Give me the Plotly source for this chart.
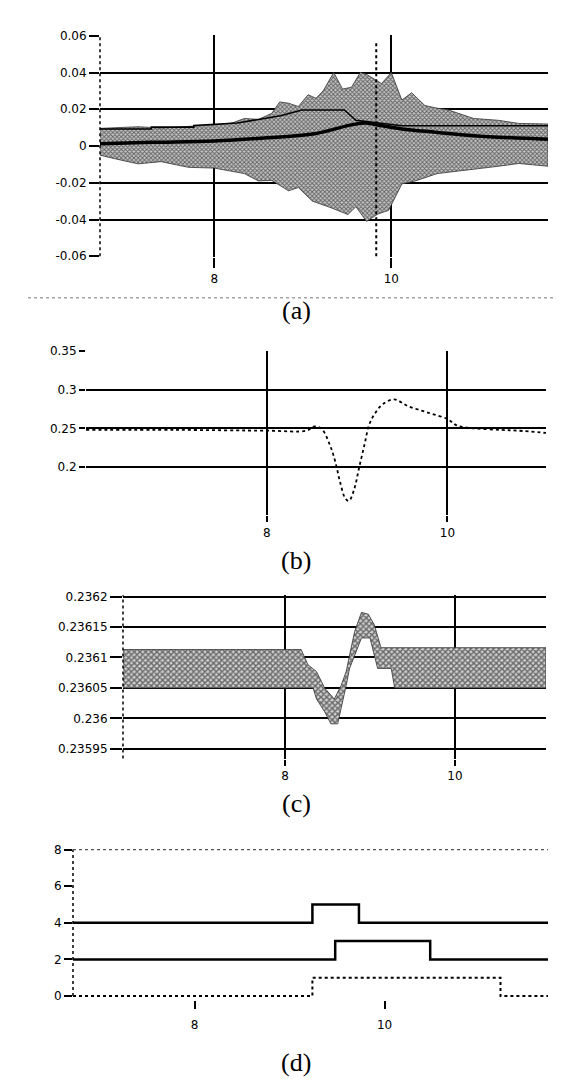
import plotly.graph_objects as go

W, H = 561, 1086

# ---------------- data ----------------
# (a) noisy signal: envelope of the noise band, running mean, upper threshold line, spike
a_up_x = [6.71, 6.9, 7.14, 7.4, 7.71, 8.0, 8.2, 8.34, 8.5, 8.65, 8.74, 8.84, 8.95, 9.06, 9.15, 9.23, 9.35,
          9.45, 9.55, 9.65, 9.72, 9.89, 10.0, 10.12, 10.23, 10.38, 10.52, 10.64, 10.93, 11.21, 11.44, 11.77]
a_up_y = [0.0096, 0.0100, 0.0105, 0.0098, 0.0105, 0.0115, 0.0125, 0.015, 0.0145, 0.0178, 0.024, 0.0233,
          0.0215, 0.0279, 0.026, 0.030, 0.040, 0.031, 0.032, 0.040, 0.039, 0.034, 0.040, 0.025, 0.029,
          0.022, 0.0206, 0.0197, 0.015, 0.014, 0.0123, 0.012]
a_lo_x = [6.71, 6.95, 7.14, 7.4, 7.71, 8.0, 8.34, 8.5, 8.65, 8.84, 8.95, 9.11, 9.32, 9.51, 9.6, 9.72,
          9.85, 9.97, 10.12, 10.27, 10.52, 10.83, 11.21, 11.44, 11.77]
a_lo_y = [-0.005, -0.0077, -0.0097, -0.0085, -0.0116, -0.012, -0.015, -0.019, -0.0187, -0.0244, -0.0226,
          -0.030, -0.0336, -0.0373, -0.033, -0.041, -0.037, -0.035, -0.0206, -0.0190, -0.015, -0.0134,
          -0.0110, -0.0095, -0.011]
a_mean_x = [6.71, 7.3, 8.0, 8.6, 9.11, 9.55, 9.71, 9.9, 10.12, 10.5, 10.93, 11.77]
a_mean_y = [0.0012, 0.002, 0.0028, 0.0045, 0.0065, 0.0115, 0.0125, 0.011, 0.0093, 0.0075, 0.0056, 0.0037]
a_thr_x = [6.71, 7.29, 7.29, 7.77, 7.77, 8.26, 8.75, 8.99, 9.47, 9.6, 10.12, 11.77]
a_thr_y = [0.0093, 0.0093, 0.0103, 0.0103, 0.0112, 0.0125, 0.0165, 0.0196, 0.0196, 0.014, 0.011, 0.011]
a_spike_x = [9.83, 9.83]
a_spike_y = [-0.06, 0.057]
a_xticks = [8, 10]
a_yticks = [-0.06, -0.04, -0.02, 0, 0.02, 0.04, 0.06]
a_ylabels = ["-0.06", "-0.04", "-0.02", "0", "0.02", "0.04", "0.06"]

# (b) smooth signal
b_x = [6.0, 7.0, 8.0, 8.44, 8.53, 8.61, 8.70, 8.76, 8.81, 8.87, 8.91, 8.97, 9.02, 9.08, 9.13,
       9.19, 9.28, 9.41, 9.56, 9.78, 10.0, 10.11, 10.30, 10.59, 10.78, 11.09]
b_y = [0.248, 0.248, 0.247, 0.247, 0.2526, 0.249, 0.228, 0.206, 0.181, 0.159, 0.156, 0.172, 0.198,
       0.228, 0.2534, 0.268, 0.281, 0.2876, 0.279, 0.2705, 0.262, 0.2534, 0.250, 0.248, 0.247, 0.244]
b_xticks = [8, 10]
b_yticks = [0.2, 0.25, 0.3, 0.35]
b_ylabels = ["0.2", "0.25", "0.3", "0.35"]

# (c) quantised signal band
c_up_x = [6.09, 8.19, 8.27, 8.37, 8.47, 8.58, 8.66, 8.72, 8.76, 8.82, 8.90, 8.98, 9.05, 9.13, 11.07]
c_up_y = [0.236113, 0.236113, 0.236088, 0.236077, 0.236049, 0.236032, 0.236054, 0.236077, 0.236104,
          0.236143, 0.236174, 0.236171, 0.236154, 0.236116, 0.236116]
c_lo_x = [6.09, 8.33, 8.37, 8.47, 8.54, 8.62, 8.68, 8.72, 8.76, 8.82, 8.90, 9.0, 9.09, 9.25, 9.29, 11.07]
c_lo_y = [0.23605, 0.23605, 0.236032, 0.23601, 0.235991, 0.235991, 0.236027, 0.236054, 0.236082,
          0.236104, 0.236132, 0.236132, 0.236082, 0.236082, 0.23605, 0.23605]
c_xticks = [8, 10]
c_yticks = [0.23595, 0.236, 0.23605, 0.2361, 0.23615, 0.2362]
c_ylabels = ["0.23595", "0.236", "0.23605", "0.2361", "0.23615", "0.2362"]

# (d) step signals
d_top_x = [6.72, 9.24, 9.73, 11.72]
d_top_y = [4, 5, 4, 4]
d_mid_x = [6.72, 9.48, 10.48, 11.72]
d_mid_y = [2, 3, 2, 2]
d_bot_x = [6.72, 9.24, 11.22, 11.72]
d_bot_y = [0, 1, 0, 0]
d_xticks = [8, 10]
d_yticks = [0, 2, 4, 6, 8]

captions = ["(a)", "(b)", "(c)", "(d)"]

# ---------------- layout helpers ----------------
def px_x(p):
    return p / W

def px_y(p):
    return 1 - p / H

tick_font = dict(family="DejaVu Sans", size=12, color="black")

fig = go.Figure()

# (a)
fig.add_trace(go.Scatter(x=a_up_x + a_lo_x[::-1], y=a_up_y + a_lo_y[::-1], fill="toself",
                         mode="lines", line=dict(width=0.8, color="#333"),
                         fillpattern=dict(shape="x", fgcolor="black", bgcolor="#c4c4c4", size=3, solidity=0.5),
                         xaxis="x", yaxis="y", hoverinfo="skip"))
fig.add_trace(go.Scatter(x=a_spike_x, y=a_spike_y, mode="lines",
                         line=dict(color="black", width=2, dash="dot"), xaxis="x", yaxis="y"))
fig.add_trace(go.Scatter(x=a_thr_x, y=a_thr_y, mode="lines",
                         line=dict(color="black", width=1.6), xaxis="x", yaxis="y"))
fig.add_trace(go.Scatter(x=a_mean_x, y=a_mean_y, mode="lines", line_shape="spline",
                         line=dict(color="black", width=3.5), xaxis="x", yaxis="y"))

# (b)
fig.add_trace(go.Scatter(x=b_x, y=b_y, mode="lines", line_shape="spline",
                         line=dict(color="black", width=1.8, dash="dot"), xaxis="x2", yaxis="y2"))

# (c)
fig.add_trace(go.Scatter(x=c_up_x + c_lo_x[::-1], y=c_up_y + c_lo_y[::-1], fill="toself",
                         mode="lines", line=dict(width=0.8, color="#333"),
                         fillpattern=dict(shape="x", fgcolor="black", bgcolor="#d0d0d0", size=4, solidity=0.6),
                         xaxis="x3", yaxis="y3", hoverinfo="skip"))

# (d)
fig.add_trace(go.Scatter(x=d_top_x, y=d_top_y, mode="lines", line_shape="hv",
                         line=dict(color="black", width=2.5), xaxis="x4", yaxis="y4"))
fig.add_trace(go.Scatter(x=d_mid_x, y=d_mid_y, mode="lines", line_shape="hv",
                         line=dict(color="black", width=2.5), xaxis="x4", yaxis="y4"))
fig.add_trace(go.Scatter(x=d_bot_x, y=d_bot_y, mode="lines", line_shape="hv",
                         line=dict(color="black", width=2, dash="dot"), xaxis="x4", yaxis="y4"))

grid = dict(showgrid=True, gridcolor="black", gridwidth=2, zeroline=False, showline=False,
            ticks="outside", tickcolor="black", tickwidth=2, tickfont=tick_font)

layout = dict(
    width=W, height=H, margin=dict(l=0, r=0, t=0, b=0),
    paper_bgcolor="white", plot_bgcolor="white", showlegend=False,
    # (a)
    xaxis=dict(domain=[px_x(92), px_x(540)], range=[6.71, 11.77], tickvals=a_xticks,
               ticktext=[str(v) for v in a_xticks], ticklen=10, anchor="y", **grid),
    yaxis=dict(domain=[px_y(245.9), px_y(21.1)], range=[-0.0605, 0.0605], tickvals=a_yticks,
               ticktext=a_ylabels, ticklen=10, anchor="x", **grid),
    # (b)
    xaxis2=dict(domain=[px_x(78), px_x(538)], range=[6.0, 11.09], tickvals=b_xticks,
                ticktext=[str(v) for v in b_xticks], ticklen=6, anchor="y2", **grid),
    yaxis2=dict(domain=[px_y(507.1), px_y(340.6)], range=[0.137, 0.3505], tickvals=b_yticks,
                ticktext=b_ylabels, ticklen=6, anchor="x2", **grid),
    # (c)
    xaxis3=dict(domain=[px_x(115), px_x(538)], range=[6.094, 11.071], tickvals=c_xticks,
                ticktext=[str(v) for v in c_xticks], ticklen=6, anchor="y3", **grid),
    yaxis3=dict(domain=[px_y(752.9), px_y(587.8)], range=[0.235934, 0.236202], tickvals=c_yticks,
                ticktext=c_ylabels, ticklen=12, anchor="x3", **grid),
    # (d)
    xaxis4=dict(domain=[px_x(65), px_x(540)], range=[6.72, 11.72], tickvals=d_xticks,
                ticktext=[str(v) for v in d_xticks], showgrid=False, zeroline=False, showline=False,
                ticks="outside", ticklen=8, tickwidth=2, tickcolor="black", tickfont=tick_font,
                ticklabelstandoff=6, anchor="y4"),
    yaxis4=dict(domain=[px_y(996.7), px_y(843.1)], range=[-0.2, 8.1], tickvals=d_yticks,
                ticktext=[str(v) for v in d_yticks], showgrid=False, zeroline=False, showline=False,
                ticks="outside", ticklen=8, tickwidth=2, tickcolor="black", tickfont=tick_font,
                anchor="x4"),
)
fig.update_layout(**layout)

# dotted left axes / frames
fig.add_shape(type="line", xref="x domain", yref="y", x0=0, x1=0, y0=-0.06, y1=0.06,
              line=dict(color="black", width=1.5, dash="dot"))
fig.add_shape(type="line", xref="x3 domain", yref="y3 domain", x0=0, x1=0, y0=0, y1=1,
              line=dict(color="black", width=1.5, dash="dot"))
fig.add_shape(type="line", xref="x4 domain", yref="y4", x0=0, x1=0, y0=0, y1=8,
              line=dict(color="black", width=1.5, dash="dot"))
fig.add_shape(type="line", xref="x4 domain", yref="y4", x0=0, x1=1, y0=8, y1=8,
              line=dict(color="#555", width=1.2, dash="dot"))
# scan borders
fig.add_shape(type="line", xref="paper", yref="paper", x0=px_x(20), x1=px_x(561), y0=px_y(287), y1=px_y(287),
              line=dict(color="#777", width=1, dash="dot"))
fig.add_shape(type="line", xref="paper", yref="paper", x0=px_x(556), x1=px_x(556), y0=px_y(1030), y1=px_y(0),
              line=dict(color="#888", width=3, dash="dot"))

cap_y = [300, 553, 798, 1060]
for txt, yy in zip(captions, cap_y):
    fig.add_annotation(text=txt, xref="paper", yref="paper", x=px_x(288), y=px_y(yy),
                       showarrow=False, font=dict(family="Liberation Serif", size=26, color="black"),
                       xanchor="center", yanchor="middle")

fig.write_html("out.html")
